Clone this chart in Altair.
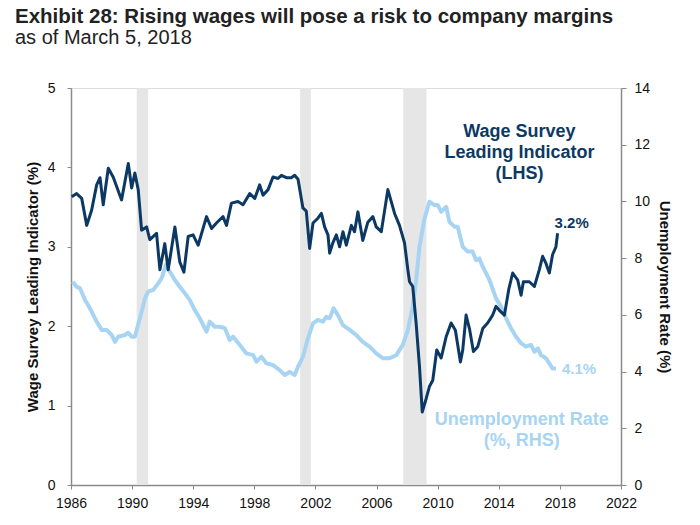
import altair as alt
import pandas as pd

# ---------------- data ----------------
wage_years = [1986.05, 1986.37, 1986.70, 1987.03, 1987.35, 1987.68, 1987.90, 1988.11, 1988.44,
              1988.76, 1989.31, 1989.75, 1989.97, 1990.18, 1990.40, 1990.62, 1990.95, 1991.16,
              1991.60, 1991.82, 1992.14, 1992.36, 1992.80, 1993.12, 1993.39, 1993.67, 1993.99,
              1994.32, 1994.87, 1995.20, 1995.52, 1995.95, 1996.18, 1996.50, 1996.93, 1997.26,
              1997.70, 1998.03, 1998.35, 1998.57, 1998.90, 1999.22, 1999.55, 1999.77, 2000.10,
              2000.42, 2000.64, 2000.86, 2001.18, 2001.40, 2001.62, 2001.84, 2002.16, 2002.39,
              2002.60, 2002.82, 2002.93, 2003.14, 2003.37, 2003.58, 2003.80, 2004.02, 2004.35,
              2004.56, 2004.78, 2005.10, 2005.43, 2005.76, 2005.98, 2006.31, 2006.74, 2007.18,
              2007.50, 2007.83, 2008.05, 2008.16, 2008.37, 2008.59, 2008.81, 2008.99, 2009.25,
              2009.46, 2009.68, 2009.94, 2010.23, 2010.56, 2010.88, 2011.16, 2011.49, 2011.64,
              2011.86, 2012.08, 2012.34, 2012.62, 2012.95, 2013.27, 2013.60, 2013.82, 2014.04,
              2014.37, 2014.65, 2014.91, 2015.24, 2015.46, 2015.61, 2016.00, 2016.33, 2016.65,
              2016.87, 2017.09, 2017.31, 2017.52, 2017.74, 2017.85]
wage_values = [3.63, 3.67, 3.61, 3.27, 3.46, 3.78, 3.87, 3.53, 3.99,
               3.88, 3.59, 4.05, 3.74, 3.93, 3.72, 3.21, 3.25, 3.09,
               3.17, 2.71, 3.04, 2.71, 3.25, 2.81, 2.68, 3.13, 3.15,
               3.02, 3.38, 3.23, 3.30, 3.38, 3.27, 3.55, 3.57, 3.53,
               3.67, 3.61, 3.78, 3.65, 3.72, 3.88, 3.86, 3.90, 3.87,
               3.87, 3.90, 3.85, 3.49, 3.45, 2.98, 3.30, 3.36, 3.42,
               3.25, 3.15, 2.92, 3.05, 3.15, 3.00, 3.19, 3.02, 3.27,
               3.19, 3.44, 3.08, 3.31, 3.38, 3.25, 3.19, 3.72, 3.42,
               3.27, 3.05, 2.71, 2.56, 2.50, 2.04, 1.49, 0.92, 1.09,
               1.24, 1.32, 1.70, 1.60, 1.87, 2.04, 1.95, 1.55, 1.70,
               2.14, 1.97, 1.68, 1.74, 1.97, 2.04, 2.14, 2.25, 2.20,
               2.14, 2.46, 2.67, 2.58, 2.39, 2.56, 2.56, 2.50, 2.71,
               2.88, 2.79, 2.67, 2.90, 3.00, 3.17]

unemp_years = [1986.11, 1986.37, 1986.59, 1986.92, 1987.24, 1987.68, 1988.01, 1988.33, 1988.66,
               1988.88, 1989.09, 1989.53, 1989.75, 1989.97, 1990.18, 1990.51, 1990.84, 1991.05,
               1991.38, 1991.71, 1991.93, 1992.21, 1992.47, 1992.80, 1993.12, 1993.45, 1993.78,
               1994.10, 1994.43, 1994.87, 1995.08, 1995.41, 1995.74, 1996.07, 1996.39, 1996.61,
               1997.05, 1997.48, 1997.92, 1998.14, 1998.46, 1998.79, 1999.22, 1999.66, 1999.99,
               2000.31, 2000.64, 2000.86, 2001.18, 2001.51, 2001.84, 2002.16, 2002.49, 2002.71,
               2002.93, 2003.19, 2003.47, 2003.80, 2004.24, 2004.67, 2005.10, 2005.54, 2005.98,
               2006.41, 2006.85, 2007.29, 2007.72, 2008.05, 2008.37, 2008.59, 2008.81, 2009.14,
               2009.46, 2009.79, 2010.01, 2010.23, 2010.56, 2010.77, 2011.10, 2011.31, 2011.64,
               2011.97, 2012.29, 2012.51, 2012.73, 2012.95, 2013.39, 2013.82, 2014.15, 2014.48,
               2014.80, 2015.13, 2015.46, 2015.78, 2016.11, 2016.33, 2016.56, 2016.76, 2017.09,
               2017.31, 2017.52, 2017.74]
unemp_values = [7.17, 6.99, 6.94, 6.52, 6.23, 5.76, 5.47, 5.47, 5.29,
                5.05, 5.23, 5.29, 5.37, 5.23, 5.23, 5.88, 6.58, 6.82,
                6.88, 7.11, 7.29, 7.76, 7.52, 7.23, 6.99, 6.76, 6.52,
                6.17, 5.88, 5.41, 5.76, 5.58, 5.58, 5.53, 5.11, 5.23,
                4.94, 4.64, 4.58, 4.35, 4.52, 4.29, 4.23, 4.05, 3.88,
                3.99, 3.88, 4.17, 4.52, 5.17, 5.70, 5.82, 5.76, 5.93,
                5.88, 6.23, 5.99, 5.64, 5.47, 5.29, 5.05, 4.88, 4.64,
                4.47, 4.47, 4.58, 4.94, 5.47, 6.29, 7.23, 8.40, 9.40,
                9.99, 9.87, 9.87, 9.64, 9.81, 9.28, 9.11, 9.11, 8.40,
                8.23, 8.23, 7.93, 7.99, 7.70, 7.23, 6.58, 6.29, 5.88,
                5.53, 5.23, 5.00, 4.88, 4.94, 4.70, 4.82, 4.58, 4.47,
                4.29, 4.11, 4.11]

recession_start = [1990.30, 2001.00, 2007.75]
recession_end = [1991.05, 2001.70, 2009.27]

x_ticks = [1986, 1990, 1994, 1998, 2002, 2006, 2010, 2014, 2018, 2022]
left_ticks = [0, 1, 2, 3, 4, 5]
right_ticks = [0, 2, 4, 6, 8, 10, 12, 14]

title_text = "Exhibit 28: Rising wages will pose a risk to company margins"
subtitle_text = "as of March 5, 2018"
left_title = "Wage Survey Leading Indicator (%)"
right_title = "Unemployment Rate (%)"
wage_label = "Wage Survey\nLeading Indicator\n(LHS)"
unemp_label = "Unemployment Rate\n(%, RHS)"
wage_label_pos = (2015.35, 4.45)
unemp_label_pos = (2015.5, 2.29)

# ---------------- styling ----------------
W, H = 550, 397
NAVY = "#0c3963"
LIGHT = "#a8d4f3"
GREY = "#e6e6e6"
AXIS = "#8a8a8a"
FONT = "Liberation Sans"

wage_df = pd.DataFrame({"year": wage_years, "wage": wage_values})
unemp_df = pd.DataFrame({"year": unemp_years, "unemp": unemp_values})
rec_df = pd.DataFrame({"start": recession_start, "end": recession_end})
wage_end = pd.DataFrame({"year": [wage_years[-1]], "wage": [wage_values[-1]],
                         "label": [f"{wage_values[-1]:.1f}%"]})
unemp_end = pd.DataFrame({"year": [unemp_years[-1]], "unemp": [unemp_values[-1]],
                          "label": [f"{unemp_values[-1]:.1f}%"]})
wage_ann = pd.DataFrame({"year": [wage_label_pos[0]], "wage": [wage_label_pos[1]],
                         "label": [wage_label]})
unemp_ann = pd.DataFrame({"year": [unemp_label_pos[0]], "unemp": [unemp_label_pos[1]],
                          "label": [unemp_label]})

xscale = alt.Scale(domain=[1986, 2022], nice=False, zero=False)
xaxis = alt.Axis(values=x_ticks, format="d", title=None, grid=False,
                 tickSize=4, labelPadding=7, labelFontSize=14, labelFont=FONT,
                 labelColor="#111", domainColor=AXIS, tickColor=AXIS, domainWidth=1.5,
                 labelFlush=False)

left_axis = alt.Axis(values=left_ticks, orient="left", title=left_title, grid=False,
                     tickSize=4, labelPadding=12, labelFontSize=14, labelFont=FONT,
                     labelColor="#111", domainColor=AXIS, tickColor=AXIS, domainWidth=1.5,
                     titleFont=FONT, titleFontSize=15, titleFontWeight="bold",
                     titleColor="#111", titlePadding=7)
right_axis = alt.Axis(values=right_ticks, orient="right", title=right_title, grid=False,
                      tickSize=5, labelPadding=8, labelFontSize=14, labelFont=FONT,
                      labelColor="#111", domainColor=AXIS, tickColor=AXIS, domainWidth=1.5,
                      titleFont=FONT, titleFontSize=15, titleFontWeight="bold",
                      titleColor="#111", titlePadding=7)

wscale = alt.Scale(domain=[0, 5], nice=False)
uscale = alt.Scale(domain=[0, 14], nice=False)

rec = alt.Chart(rec_df).mark_rect(color=GREY).encode(
    x=alt.X("start:Q", scale=xscale, axis=xaxis),
    x2="end:Q",
    y=alt.value(0),
    y2=alt.value(H),
)

unemp_line = alt.Chart(unemp_df).mark_line(color=LIGHT, strokeWidth=4, strokeJoin="round").encode(
    x=alt.X("year:Q", scale=xscale, axis=xaxis),
    y=alt.Y("unemp:Q", scale=uscale, axis=right_axis),
)
unemp_end_text = alt.Chart(unemp_end).mark_text(
    color=LIGHT, font=FONT, fontSize=15, fontWeight="bold", align="left", baseline="middle", dx=6, dy=1
).encode(x=alt.X("year:Q", scale=xscale, axis=xaxis),
         y=alt.Y("unemp:Q", scale=uscale, axis=right_axis), text="label:N")
unemp_ann_text = alt.Chart(unemp_ann).mark_text(
    color=LIGHT, font=FONT, fontSize=18, fontWeight="bold", align="center", baseline="middle",
    lineBreak="\n", lineHeight=21
).encode(x=alt.X("year:Q", scale=xscale, axis=xaxis),
         y=alt.Y("unemp:Q", scale=uscale, axis=right_axis), text="label:N")
unemp_layer = alt.layer(unemp_line, unemp_end_text, unemp_ann_text)

wage_line = alt.Chart(wage_df).mark_line(color=NAVY, strokeWidth=3, strokeJoin="round").encode(
    x=alt.X("year:Q", scale=xscale, axis=xaxis),
    y=alt.Y("wage:Q", scale=wscale, axis=left_axis),
)
wage_end_text = alt.Chart(wage_end).mark_text(
    color=NAVY, font=FONT, fontSize=15, fontWeight="bold", align="left", baseline="middle", dx=-3, dy=-10
).encode(x=alt.X("year:Q", scale=xscale, axis=xaxis),
         y=alt.Y("wage:Q", scale=wscale, axis=left_axis), text="label:N")
wage_ann_text = alt.Chart(wage_ann).mark_text(
    color=NAVY, font=FONT, fontSize=18, fontWeight="bold", align="center", baseline="middle",
    lineBreak="\n", lineHeight=21
).encode(x=alt.X("year:Q", scale=xscale, axis=xaxis),
         y=alt.Y("wage:Q", scale=wscale, axis=left_axis), text="label:N")
wage_layer = alt.layer(wage_line, wage_end_text, wage_ann_text)

chart = alt.layer(rec, unemp_layer, wage_layer).resolve_scale(y="independent").properties(
    width=W,
    height=H,
    title=alt.TitleParams(
        text=title_text, subtitle=subtitle_text, anchor="start", frame="group",
        font=FONT, fontSize=20.5, fontWeight="bold", color="#222",
        subtitleFont=FONT, subtitleFontSize=20, subtitleColor="#222",
        subtitlePadding=1, offset=33, dx=-56,
    ),
    autosize=alt.AutoSizeParams(type="none"),
    padding={"left": 63, "top": 80, "right": 66, "bottom": 28},
).configure_view(stroke=AXIS, strokeWidth=1).configure(background="white")

chart.save("out.html", embed_options={"renderer": "svg", "actions": False})
